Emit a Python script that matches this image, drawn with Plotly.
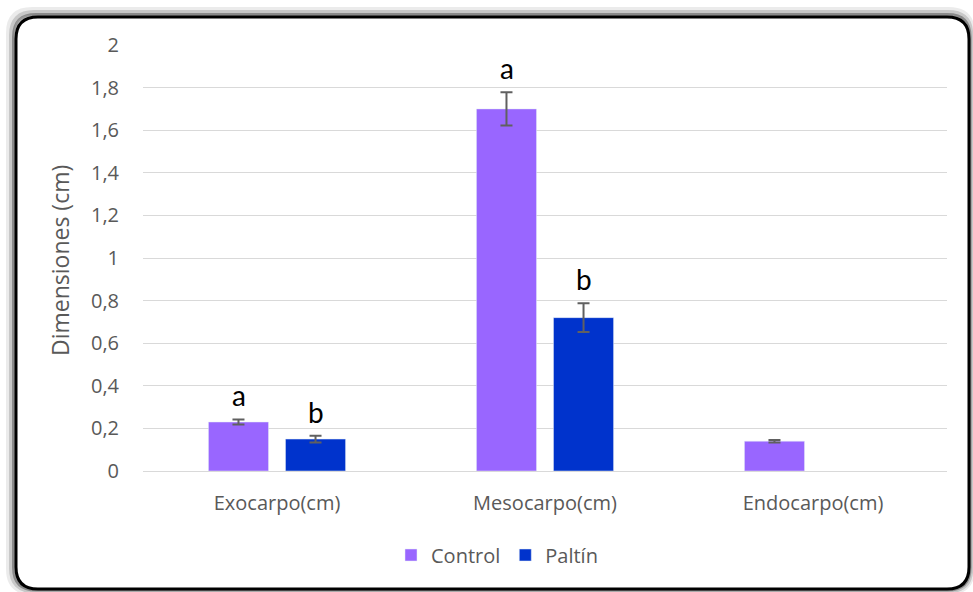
import plotly.graph_objects as go

categories = ["Exocarpo(cm)", "Mesocarpo(cm)", "Endocarpo(cm)"]
control_vals = [0.23, 1.70, 0.14]
control_err = [0.012, 0.078, 0.006]
paltin_vals = [0.15, 0.72, None]
paltin_err = [0.016, 0.068, None]
control_letters = ["a", "a", ""]
paltin_letters = ["b", "b", ""]
yticks = [0, 0.2, 0.4, 0.6, 0.8, 1, 1.2, 1.4, 1.6, 1.8, 2]

FW, FH = 973, 592
L, R, T, B = 143, 26, 45, 121
W = FW - L - R
H = FH - T - B

def px_x(px):
    return (px - L) / W

def px_y(py):
    return 1 - (py - T) / H

def rounded(x0, y0, x1, y1, r):
    pts = [
        ("M", [(x0 + r, y0)]),
        ("L", [(x1 - r, y0)]),
        ("Q", [(x1, y0), (x1, y0 + r)]),
        ("L", [(x1, y1 - r)]),
        ("Q", [(x1, y1), (x1 - r, y1)]),
        ("L", [(x0 + r, y1)]),
        ("Q", [(x0, y1), (x0, y1 - r)]),
        ("L", [(x0, y0 + r)]),
        ("Q", [(x0, y0), (x0 + r, y0)]),
    ]
    s = ""
    for cmd, ps in pts:
        s += cmd + " " + " ".join(f"{px_x(a):.5f},{px_y(b):.5f}" for a, b in ps) + " "
    return s + "Z"

CTRL = "#9966ff"
PALT = "#0033cc"
GRAY = "#595959"
FONT = "Open Sans"

fig = go.Figure()
fig.add_trace(go.Bar(
    name="Control", x=categories, y=control_vals, marker_color=CTRL,
    error_y=dict(type="data", array=control_err, color="#606060", thickness=2, width=6),
))
fig.add_trace(go.Bar(
    name="Paltín", x=categories, y=paltin_vals, marker_color=PALT,
    error_y=dict(type="data", array=paltin_err, color="#606060", thickness=2, width=6),
))

annotations = []
for i, c in enumerate(categories):
    if control_letters[i]:
        annotations.append(dict(x=c, y=control_vals[i] + control_err[i], xref="x", yref="y",
                                text=control_letters[i], showarrow=False, xshift=-38.5, yshift=5,
                                yanchor="bottom", font=dict(family="Lato", size=28, color="black")))
    if paltin_letters[i]:
        annotations.append(dict(x=c, y=paltin_vals[i] + paltin_err[i], xref="x", yref="y",
                                text=paltin_letters[i], showarrow=False, xshift=38.5, yshift=5,
                                yanchor="bottom", font=dict(family="Lato", size=28, color="black")))
annotations.append(dict(x=px_x(60), y=px_y(261), xref="paper", yref="paper", text="Dimensiones (cm)",
                        textangle=-90, showarrow=False, xanchor="center", yanchor="middle",
                        font=dict(family=FONT, size=23, color=GRAY)))

shapes = []
for off, w, op in [(6, 8, 0.08), (4, 6, 0.15), (2, 4, 0.3)]:
    shapes.append(dict(type="path", xref="paper", yref="paper",
                       path=rounded(16 - off, 17 - off, 969 + off * 0.3, 589 + off * 0.3, 22),
                       line=dict(color=f"rgba(0,0,0,{op})", width=w), layer="below"))
shapes.append(dict(type="path", xref="paper", yref="paper",
                   path=rounded(16, 17, 969, 589, 22), fillcolor="white",
                   line=dict(color="black", width=3), layer="below"))

fig.update_layout(
    width=FW, height=FH,
    margin=dict(l=L, r=R, t=T, b=B, autoexpand=False),
    paper_bgcolor="white", plot_bgcolor="rgba(0,0,0,0)",
    separators=",.",
    barmode="group", bargap=0.425, bargroupgap=0.22,
    font=dict(family=FONT, size=20, color=GRAY),
    showlegend=True,
    legend=dict(orientation="h", x=px_x(497), y=px_y(555), xanchor="center", yanchor="middle",
                font=dict(family=FONT, size=20, color=GRAY), bgcolor="rgba(0,0,0,0)",
                itemwidth=30, traceorder="normal"),
    annotations=annotations,
    shapes=shapes,
)
fig.update_xaxes(showgrid=False, showline=False, zeroline=False, ticks="", ticklabelstandoff=18,
                 tickfont=dict(family=FONT, size=20, color=GRAY))
fig.update_yaxes(range=[0, 2], tickvals=yticks, showgrid=True, gridcolor="#d9d9d9", gridwidth=1,
                 zeroline=True, zerolinecolor="#d9d9d9", zerolinewidth=1, showline=False,
                 ticks="", ticklabelstandoff=23, tickfont=dict(family=FONT, size=20, color=GRAY))

fig.write_html("out.html", config={"displayModeBar": False},
               post_script="document.body.style.margin='0';document.body.style.overflow='hidden';")
